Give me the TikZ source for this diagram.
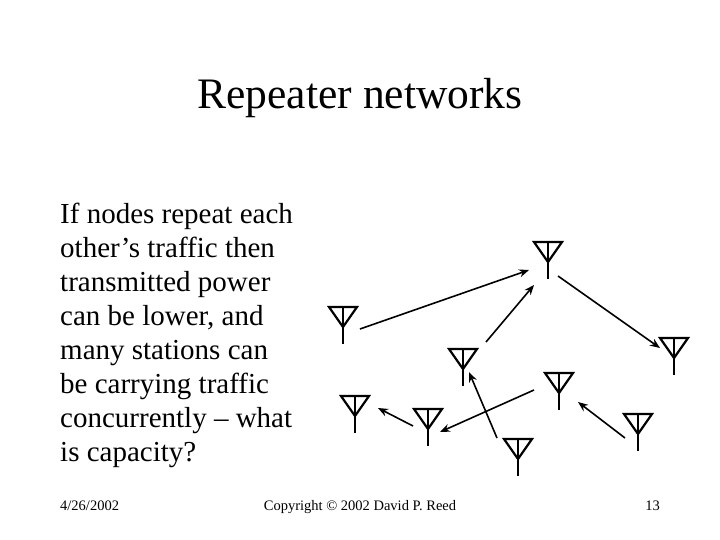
\documentclass[tikz,border=0pt]{standalone}
\usepackage{fontspec}
\setmainfont{Liberation Serif}
\usetikzlibrary{calc,arrows.meta}
\begin{document}
\begin{tikzpicture}[x=1pt,y=-1pt,
  ant/.style={line width=2.2pt},
  arr/.style={line width=1.6pt,-{Stealth[length=10pt,width=8pt]}},
  txt/.style={anchor=base west,inner sep=0pt}]
\useasboundingbox (0,0) rectangle (720,540);
\def\antenna#1#2#3{\coordinate (#1) at (#2,#3);
  \draw[ant,line join=miter] ($(#1)+(-14,0)$) -- ($(#1)+(14,0)$) -- ($(#1)+(0,20)$) -- cycle;
  \draw[ant] (#1) -- ($(#1)+(0,37)$);}
\node[anchor=base] (title) at (360,109) {\fontsize{43.5}{48}\selectfont Repeater networks};
\node[anchor=north west,inner sep=0pt,align=left,font=\fontsize{29}{34}\selectfont] (body) at (60,203) {If nodes repeat each\\other’s traffic then\\transmitted power\\can be lower, and\\many stations can\\be carrying traffic\\concurrently – what\\is capacity?};
\node[txt] (date) at (60,510) {\fontsize{14.5}{16}\selectfont 4/26/2002};
\node[anchor=base] (copy) at (360,510) {\fontsize{14.5}{16}\selectfont Copyright © 2002 David P. Reed};
\node[anchor=base east,inner sep=0pt] (page) at (660,510) {\fontsize{14.5}{16}\selectfont 13};
\antenna{a1}{343}{307}
\antenna{a2}{548}{242}
\antenna{a3}{463}{349}
\antenna{a4}{674}{338}
\antenna{a5}{559}{373}
\antenna{a6}{355}{396}
\antenna{a7}{428}{409}
\antenna{a8}{518}{439}
\antenna{a9}{638}{414}
\coordinate (e1s) at (360,329); \coordinate (e1t) at (529,270);
\coordinate (e2s) at (486,342); \coordinate (e2t) at (534,285);
\coordinate (e3s) at (558,276); \coordinate (e3t) at (660,348);
\coordinate (e4s) at (413,426); \coordinate (e4t) at (378,408);
\coordinate (e5s) at (534,390); \coordinate (e5t) at (440,432);
\coordinate (e6s) at (497,438); \coordinate (e6t) at (469,372);
\coordinate (e7s) at (625,438); \coordinate (e7t) at (578,402);
\foreach \i in {1,...,7} \draw[arr] (e\i s) -- (e\i t);
\end{tikzpicture}
\end{document}
